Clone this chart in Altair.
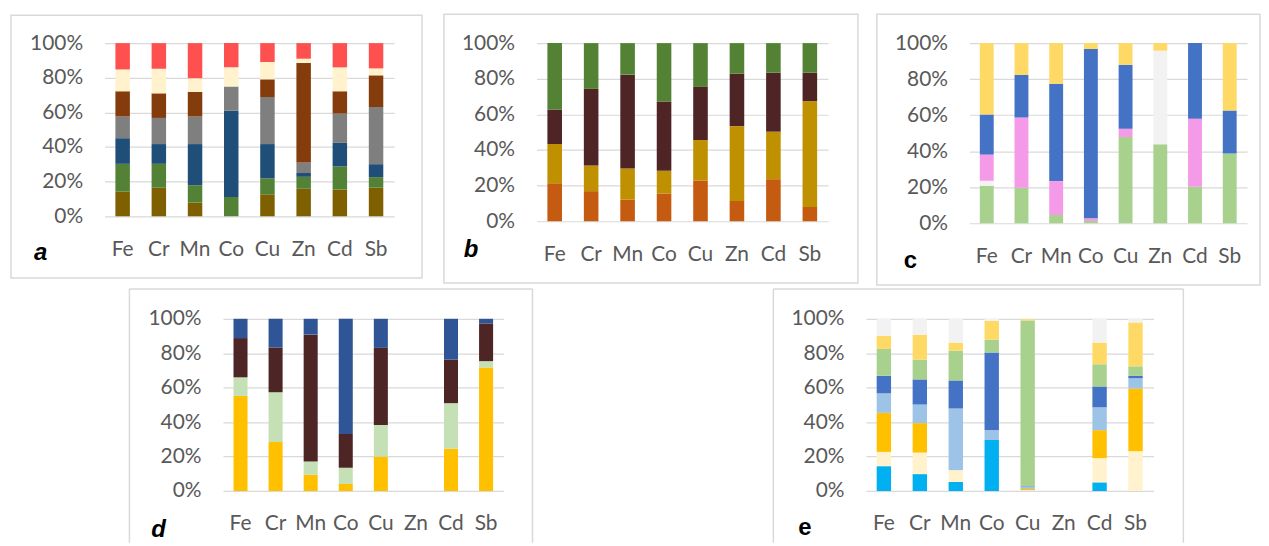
import altair as alt
import pandas as pd

elements = ["Fe", "Cr", "Mn", "Co", "Cu", "Zn", "Cd", "Sb"]

# ---- panel a : 7 sources, bottom -> top ----
a_colors = ["#7F6000", "#538135", "#1F4E79", "#7F7F7F", "#843C0C", "#FFF2CC", "#FF5050"]
a_values = [
    [14.2, 16.1, 14.8, 12.5, 14.6, 12.6, 15.2],   # Fe
    [16.5, 13.8, 11.4, 15.1, 14.2, 14.2, 14.8],   # Cr
    [7.9, 10.0, 23.8, 15.9, 14.2, 7.9, 20.3],     # Mn
    [0.0, 11.1, 49.9, 13.9, 0.0, 11.1, 14.0],     # Co
    [12.7, 9.2, 19.8, 27.2, 10.2, 10.0, 10.9],    # Cu
    [15.9, 6.9, 2.2, 6.1, 57.4, 2.5, 9.0],        # Zn
    [15.4, 13.4, 13.6, 16.9, 12.9, 13.8, 14.0],   # Cd
    [16.5, 6.1, 7.5, 33.0, 18.3, 4.0, 14.6],      # Sb
]

# ---- panel b : 4 sources ----
b_colors = ["#C55A11", "#BF9000", "#4E2424", "#548235"]
b_values = [
    [21.4, 22.0, 19.4, 37.2],
    [16.9, 14.4, 43.0, 25.7],
    [12.1, 17.5, 52.7, 17.7],
    [15.6, 12.7, 38.9, 32.8],
    [22.9, 22.7, 29.8, 24.6],
    [11.4, 42.0, 29.5, 17.1],
    [23.6, 26.7, 33.1, 16.6],
    [8.0, 59.4, 16.0, 16.6],
]

# ---- panel c : 5 sources ----
c_colors = ["#A9D18E", "#F2F2F2", "#F59AE8", "#4472C4", "#FFD966"]
c_values = [
    [20.8, 2.8, 14.5, 22.3, 39.6],
    [19.7, 0.0, 39.0, 23.6, 17.7],
    [4.6, 0.0, 18.8, 54.1, 22.5],
    [1.3, 0.0, 1.5, 93.9, 3.3],
    [47.9, 0.0, 4.6, 35.5, 12.0],
    [43.8, 52.0, 0.0, 0.0, 4.2],
    [20.3, 0.0, 37.7, 42.0, 0.0],
    [38.7, 0.0, 0.0, 23.9, 37.4],
]

# ---- panel d : 4 sources (Zn empty) ----
d_colors = ["#FFC000", "#C5E0B4", "#4E2525", "#2F5597"]
d_values = [
    [55.2, 10.8, 22.8, 11.2],
    [28.5, 28.8, 26.0, 16.7],
    [9.4, 7.7, 73.7, 9.2],
    [4.0, 9.5, 19.6, 66.9],
    [20.0, 18.3, 44.8, 16.9],
    [0.0, 0.0, 0.0, 0.0],
    [24.6, 26.4, 25.3, 23.7],
    [71.7, 3.7, 21.9, 2.7],
]

# ---- panel e : 8 sources (Zn empty) ----
e_colors = ["#00B0F0", "#FFF2CC", "#FFC000", "#9DC3E6", "#4472C4", "#A9D18E", "#FFD966", "#F2F2F2"]
e_values = [
    [14.4, 8.3, 22.7, 11.3, 10.2, 15.6, 7.7, 9.8],
    [9.8, 12.5, 17.1, 10.8, 14.6, 11.5, 14.5, 9.2],
    [5.2, 6.9, 0.0, 35.8, 16.3, 17.3, 4.7, 13.8],
    [29.6, 0.0, 0.0, 5.6, 45.2, 7.5, 10.9, 1.2],
    [0.0, 0.5, 0.7, 1.5, 0.2, 96.1, 0.8, 0.2],
    [0, 0, 0, 0, 0, 0, 0, 0],
    [5.0, 14.1, 16.2, 13.3, 12.1, 12.9, 12.6, 13.8],
    [0.0, 23.1, 36.4, 6.0, 1.5, 5.4, 25.5, 2.1],
]

TICKS = [0, 0.2, 0.4, 0.6, 0.8, 1.0]
BORDER = "#D9D9D9"
one = pd.DataFrame({"z": [0]})


def panel(values, colors, letter, w, h, box, lpos, italic=True, open_bottom=False):
    rows = []
    for el, vals in zip(elements, values):
        for k, v in enumerate(vals):
            if v > 0:
                rows.append({"el": el, "k": k, "src": f"S{k+1}", "v": v})
    df = pd.DataFrame(rows)
    srcs = [f"S{k+1}" for k in range(len(colors))]
    bars = alt.Chart(df).mark_bar().encode(
        x=alt.X("el:N", title=None,
                scale=alt.Scale(domain=elements, range=[0, w], paddingInner=0.6, paddingOuter=0.3),
                axis=alt.Axis(labelAngle=0, labelBaseline="alphabetic", labelPadding=39,
                              ticks=False, tickSize=0, domain=False, grid=False)),
        y=alt.Y("v:Q", stack="normalize", title=None,
                scale=alt.Scale(domain=[0, 1], nice=False),
                axis=alt.Axis(format=".0%", values=TICKS, labelPadding=22, ticks=False,
                              tickSize=0, domain=False, grid=True)),
        color=alt.Color("src:N", scale=alt.Scale(domain=srcs, range=colors), legend=None),
        order=alt.Order("k:Q", sort="ascending"),
    )
    x0, y0, x1, y1 = box
    if open_bottom:
        top = alt.Chart(one).mark_rule(color=BORDER, strokeWidth=1.5).encode(
            x=alt.value(x0), x2=alt.value(x1), y=alt.value(y0))
        left = alt.Chart(one).mark_rule(color=BORDER, strokeWidth=1.5).encode(
            x=alt.value(x0), y=alt.value(y0), y2=alt.value(y1))
        right = alt.Chart(one).mark_rule(color=BORDER, strokeWidth=1.5).encode(
            x=alt.value(x1), y=alt.value(y0), y2=alt.value(y1))
        border = [top, left, right]
    else:
        border = [alt.Chart(one).mark_rect(filled=False, stroke=BORDER, strokeWidth=1.5).encode(
            x=alt.value(x0), x2=alt.value(x1), y=alt.value(y0), y2=alt.value(y1))]
    txt = alt.Chart(one).mark_text(
        text=letter, align="left", baseline="alphabetic", font="Liberation Sans",
        fontSize=24, fontWeight="bold", fontStyle="italic" if italic else "normal",
        color="#000000").encode(x=alt.value(lpos[0]), y=alt.value(lpos[1]))
    # flush layout width is 1: the x scale range above gives the real plot width
    return alt.layer(*border, bars, txt).properties(width=1, height=h)


def spacer(w, h=1):
    return alt.Chart(one).mark_point(opacity=0).encode(
        x=alt.value(0), y=alt.value(0)).properties(width=w, height=h)


pa = panel(a_values, a_colors, "a", 291, 174, (-94, -28, 319, 236), (-71, 218))
pb = panel(b_values, b_colors, "b", 293, 179, (-93, -29, 323, 241), (-73, 215))
pc = panel(c_values, c_colors, "c", 279, 181, (-93, -29, 292, 243), (-66, 226), italic=False)
pd_ = panel(d_values, d_colors, "d", 282, 173, (-94, -30, 311, 225), (-72, 219), open_bottom=True)
pe = panel(e_values, e_colors, "e", 289, 173, (-93, -30, 319, 225), (-68, 217), italic=False,
           open_bottom=True)

# column starts (relative to panel a): 0, 119, 434, 765, 869
chart = alt.concat(
    pa, spacer(315), pb, spacer(104), pc,
    spacer(119), pd_, spacer(331), pe,
    columns=5,
    spacing={"row": 96, "column": 0},
    bounds="flush",
    align={"row": "each", "column": "each"},
).resolve_scale(
    color="independent", x="independent", y="independent"
).properties(
    padding={"left": 2, "top": 4, "right": 0, "bottom": 0}
).configure_axis(
    labelFont="Lato", labelFontSize=21, labelColor="#595959", gridColor="#D9D9D9",
    gridWidth=1.2
).configure_view(stroke=None)

chart.save("out.html", embed_options={"renderer": "svg", "actions": False})
